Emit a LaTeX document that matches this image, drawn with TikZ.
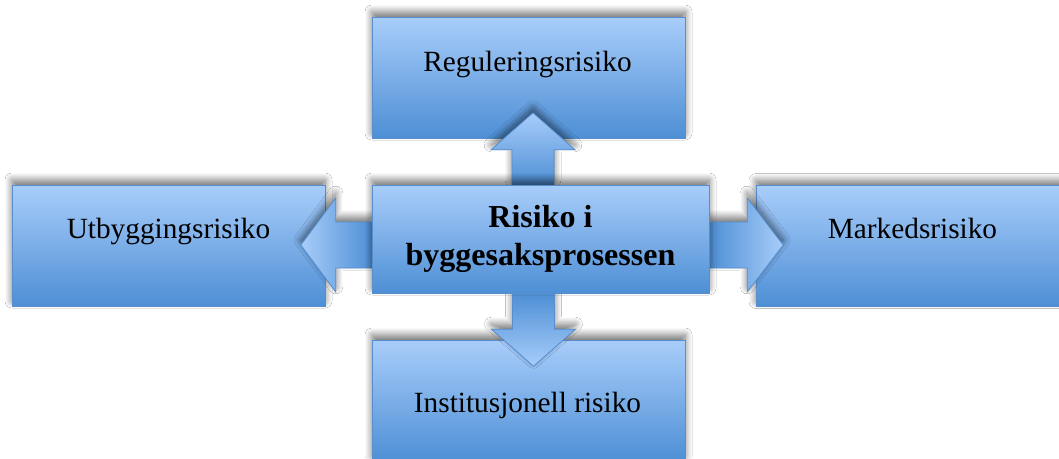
\documentclass[tikz,border=0pt]{standalone}
\usepackage{fontspec}
\setmainfont{Liberation Serif}
\usetikzlibrary{calc,shadows.blur}
\definecolor{boxlight}{RGB}{168,205,250}
\definecolor{boxdark}{RGB}{78,143,213}
\definecolor{boxline}{RGB}{86,142,206}
\tikzset{
  softshadow/.style={blur shadow={shadow xshift=0pt, shadow yshift=5pt,
      shadow blur radius=7pt, shadow blur steps=12, shadow opacity=55}},
  riskbox/.style={draw=boxline, line width=0.8pt, top color=boxlight,
      bottom color=boxdark, minimum width=313pt, minimum height=121pt,
      inner sep=0pt, softshadow},
  corebox/.style={riskbox, minimum width=337pt, minimum height=108pt,
      align=center, font=\fontsize{32}{38}\selectfont\bfseries},
  boxlabel/.style={anchor=base, inner sep=0pt, font=\fontsize{29.3}{35}\selectfont},
  blockarrow/.style={draw=boxline, line width=0.8pt, line join=miter, softshadow},
}
\begin{document}
\begin{tikzpicture}[x=1pt,y=-1pt]
\clip (0,0) rectangle (1059,458);
\fill[white] (0,0) rectangle (1059,458);

% outer risk boxes
\node[riskbox] (reg)  at (528.5,77.5)  {};
\node[riskbox] (utb)  at (168.5,245.5) {};
\node[riskbox] (mark) at (912.5,246)   {};
\node[riskbox] (inst) at (528.5,400.5) {};

\node[boxlabel] (reg-text)  at ($(reg.center)+(-1,-6.5)$)  {Reguleringsrisiko};
\node[boxlabel] (utb-text)  at ($(utb.center)+(0,-7.5)$)   {Utbyggingsrisiko};
\node[boxlabel] (mark-text) at ($(mark.center)+(0,-8)$)    {Markedsrisiko};
\node[boxlabel] (inst-text) at ($(inst.center)+(-1,11.5)$) {Institusjonell risiko};

% central box, placed first as an invisible anchor for the arrows
\path (540.5,239) coordinate (corec);
\node[minimum width=337pt, minimum height=108pt, inner sep=0pt] (core) at (corec) {};

% block arrows from the central box
\draw[blockarrow, top color=boxlight, bottom color=boxdark]
  ($(core.north)+(-28.5,0)$) -- ++(0,-35) -- ++(-21,0)
  -- ($(core.north)+(-7.5,-72)$) -- ($(core.north)+(34.5,-35)$)
  -- ++(-21,0) -- ($(core.north)+(13.5,0)$) -- cycle;
\draw[blockarrow, top color=boxdark, bottom color=boxlight]
  ($(core.south)+(-28,0)$) -- ++(0,36) -- ++(-21,0)
  -- ($(core.south)+(-7,73)$) -- ($(core.south)+(35,36)$)
  -- ++(-21,0) -- ($(core.south)+(14,0)$) -- cycle;
\draw[blockarrow, left color=boxlight, right color=boxdark]
  ($(core.west)+(0,-17)$) -- ++(-36,0) -- ++(0,-24)
  -- ($(core.west)+(-71,6)$) -- ($(core.west)+(-36,53)$)
  -- ++(0,-24) -- ($(core.west)+(0,29)$) -- cycle;
\draw[blockarrow, left color=boxdark, right color=boxlight]
  ($(core.east)+(0,-17)$) -- ++(38,0) -- ++(0,-24)
  -- ($(core.east)+(74,6)$) -- ($(core.east)+(38,53)$)
  -- ++(0,-24) -- ($(core.east)+(0,29)$) -- cycle;

% central box drawn on top of the arrow shafts
\node[corebox] (core-box) at (corec) {Risiko i\\byggesaksprosessen};
\end{tikzpicture}
\end{document}
